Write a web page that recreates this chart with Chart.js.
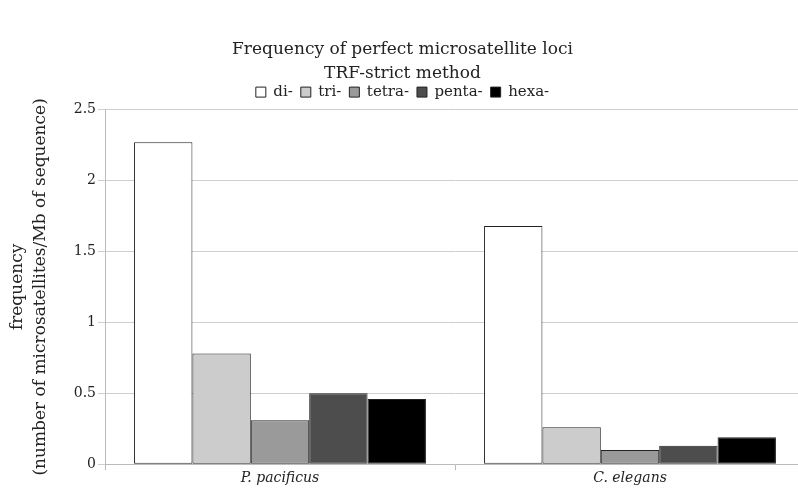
<!DOCTYPE html>
<html>
<head>
<meta charset="utf-8">
<script src="https://cdn.jsdelivr.net/npm/chart.js@4/dist/chart.umd.min.js"></script>
<style>
  html, body { margin: 0; padding: 0; background: #fff; overflow: hidden; }
  #wrap { width: 811px; height: 494px; }
</style>
</head>
<body>
<div id="wrap"><canvas id="chart"></canvas></div>
<script>
// ---- data ----
const species = ["P. pacificus", "C. elegans"];
const repeatTypes = ["di-", "tri-", "tetra-", "penta-", "hexa-"];
const diFreq = [2.27, 1.68];
const triFreq = [0.78, 0.26];
const tetraFreq = [0.31, 0.10];
const pentaFreq = [0.50, 0.13];
const hexaFreq = [0.46, 0.19];
const yTicks = [0, 0.5, 1, 1.5, 2, 2.5];

const fills = ["#ffffff", "#cccccc", "#9a9a9a", "#4d4d4d", "#000000"];
const serif = "'DejaVu Serif', 'Liberation Serif', serif";

const series = [diFreq, triFreq, tetraFreq, pentaFreq, hexaFreq];

new Chart(document.getElementById("chart"), {
  type: "bar",
  data: {
    labels: species,
    datasets: series.map((vals, i) => ({
      label: repeatTypes[i],
      data: vals,
      backgroundColor: fills[i],
      borderColor: "#222222",
      borderWidth: 1,
      borderSkipped: false,
      categoryPercentage: 0.834,
      barPercentage: 1,
    })),
  },
  options: {
    responsive: true,
    maintainAspectRatio: false,
    animation: false,
    layout: { padding: { top: 38, left: 0, right: 6, bottom: 7 } },
    plugins: {
      tooltip: { enabled: false },
      title: {
        display: true,
        text: ["Frequency of perfect microsatellite loci", "TRF-strict method"],
        color: "#222",
        font: { family: serif, size: 17, weight: "normal", lineHeight: 1.4 },
        padding: { top: 0, bottom: -9 },
      },
      legend: {
        position: "top",
        labels: {
          color: "#222",
          font: { family: serif, size: 15 },
          boxWidth: 10,
          boxHeight: 10,
          padding: 8,
        },
      },
    },
    scales: {
      x: {
        grid: { display: true, drawOnChartArea: false, offset: true, color: "#bbbbbb", tickLength: 6 },
        border: { color: "#bbbbbb" },
        ticks: {
          color: "#222",
          font: { family: serif, size: 14, style: "italic" },
          padding: 0,
        },
      },
      y: {
        min: 0,
        max: 2.5,
        afterBuildTicks: (axis) => {
          axis.ticks = yTicks.map((v) => ({ value: v }));
        },
        afterFit: (axis) => {
          axis.width = 105;
        },
        grid: { color: "#cfcfcf", tickLength: 7 },
        border: { color: "#bbbbbb" },
        ticks: {
          color: "#222",
          font: { family: serif, size: 14 },
          padding: 2,
          callback: (v) => String(v),
        },
        title: {
          display: true,
          text: ["frequency", "(number of microsatellites/Mb of sequence)"],
          color: "#222",
          font: { family: serif, size: 17, lineHeight: 1.35 },
          padding: { top: 6, bottom: 0 },
        },
      },
    },
  },
});
</script>
</body>
</html>
